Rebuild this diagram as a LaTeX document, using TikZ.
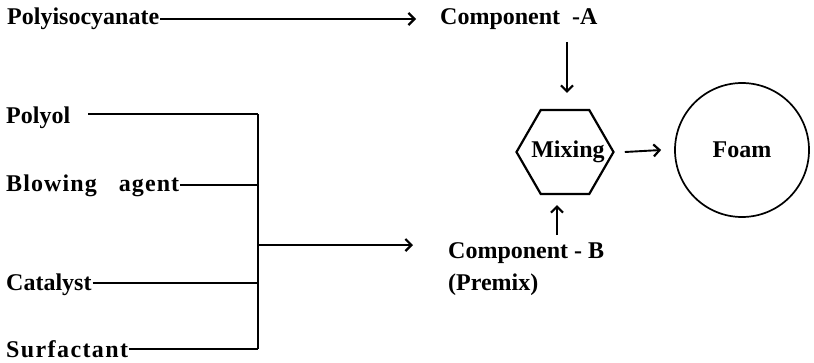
\documentclass[tikz,border=0pt]{standalone}
\usepackage{fontspec}
\setmainfont{Liberation Serif}
\usetikzlibrary{arrows.meta,shapes.geometric,calc}
\makeatletter
\newcommand\spcd[2]{\def\spc@k{#1}\@tfor\spc@x:=#2\do{\spc@x\kern\spc@k}\unkern}
\makeatother
\begin{document}
\begin{tikzpicture}[x=1pt,y=-1pt,
  txt/.style={font=\fontsize{24}{28}\selectfont\bfseries},
  lbl/.style={txt,inner sep=0pt,anchor=base west},
  ln/.style={line width=1.3pt},
  arr/.style={line width=1.5pt,-{Straight Barb[length=6pt,width=12pt,line width=2.2pt]}}]
\useasboundingbox (0,0) rectangle (814,362);
% texts
\node[lbl] (poly) at (7,24) {Polyisocyanate};
\node[lbl] (compA) at (440,24) {Component\hspace{12pt}-A};
\node[lbl] (polyol) at (6,123) {Polyol};
\node[lbl] (blow) at (6,191) {\spcd{1.1pt}{Blowing}\hspace{22pt}\spcd{1.1pt}{agent}};
\node[lbl] (cat) at (6,290) {Catalyst};
\node[lbl] (surf) at (6,357) {\spcd{1.4pt}{Surfactant}};
\node[lbl] (compB) at (448,258) {Component - B};
\node[lbl] (premix) at (448,290) {(Premix)};
% shapes
\node[regular polygon,regular polygon sides=6,minimum size=97pt,inner sep=0pt,
      draw,line width=2.2pt] (mix) at (565,152) {};
\node[txt,inner sep=0pt] (mixt) at ([xshift=3pt]mix.center) {Mixing};
\node[circle,draw,line width=1.7pt,minimum size=134pt,inner sep=0pt,txt] (foam) at (742,150) {Foam};
% bus
\coordinate (bt) at (258,114);
\coordinate (bb) at (258,349);
\coordinate (bm) at (258,245);
\draw[ln] (bt) -- (bb);
\draw[ln] ([shift={(18,-9)}]polyol.base east) -- (bt);
\draw[ln] ([shift={(1,-6)}]blow.base east) coordinate (b0) -- (b0 -| bt);
\draw[ln] ([shift={(1,-7)}]cat.base east) coordinate (c0) -- (c0 -| bt);
\draw[ln] ([shift={(1,-8)}]surf.base east) coordinate (s0) -- (s0 -| bt);
% arrows
\draw[arr] ([shift={(1,-5)}]poly.base east) -- ([shift={(-24,-5)}]compA.base west);
\draw[arr] (bm) -- ([shift={(-35,-13)}]compB.base west);
\draw[arr] ([shift={(2,-67)}]mix.north) -- ([shift={(2,-16)}]mix.north);
\draw[arr] ([shift={(-8,40)}]mix.south) -- ([shift={(-8,10)}]mix.south);
\draw[arr,line width=1.9pt] ([xshift=10pt]mix.east) -- ([xshift=-13pt]foam.west);
\end{tikzpicture}
\end{document}
